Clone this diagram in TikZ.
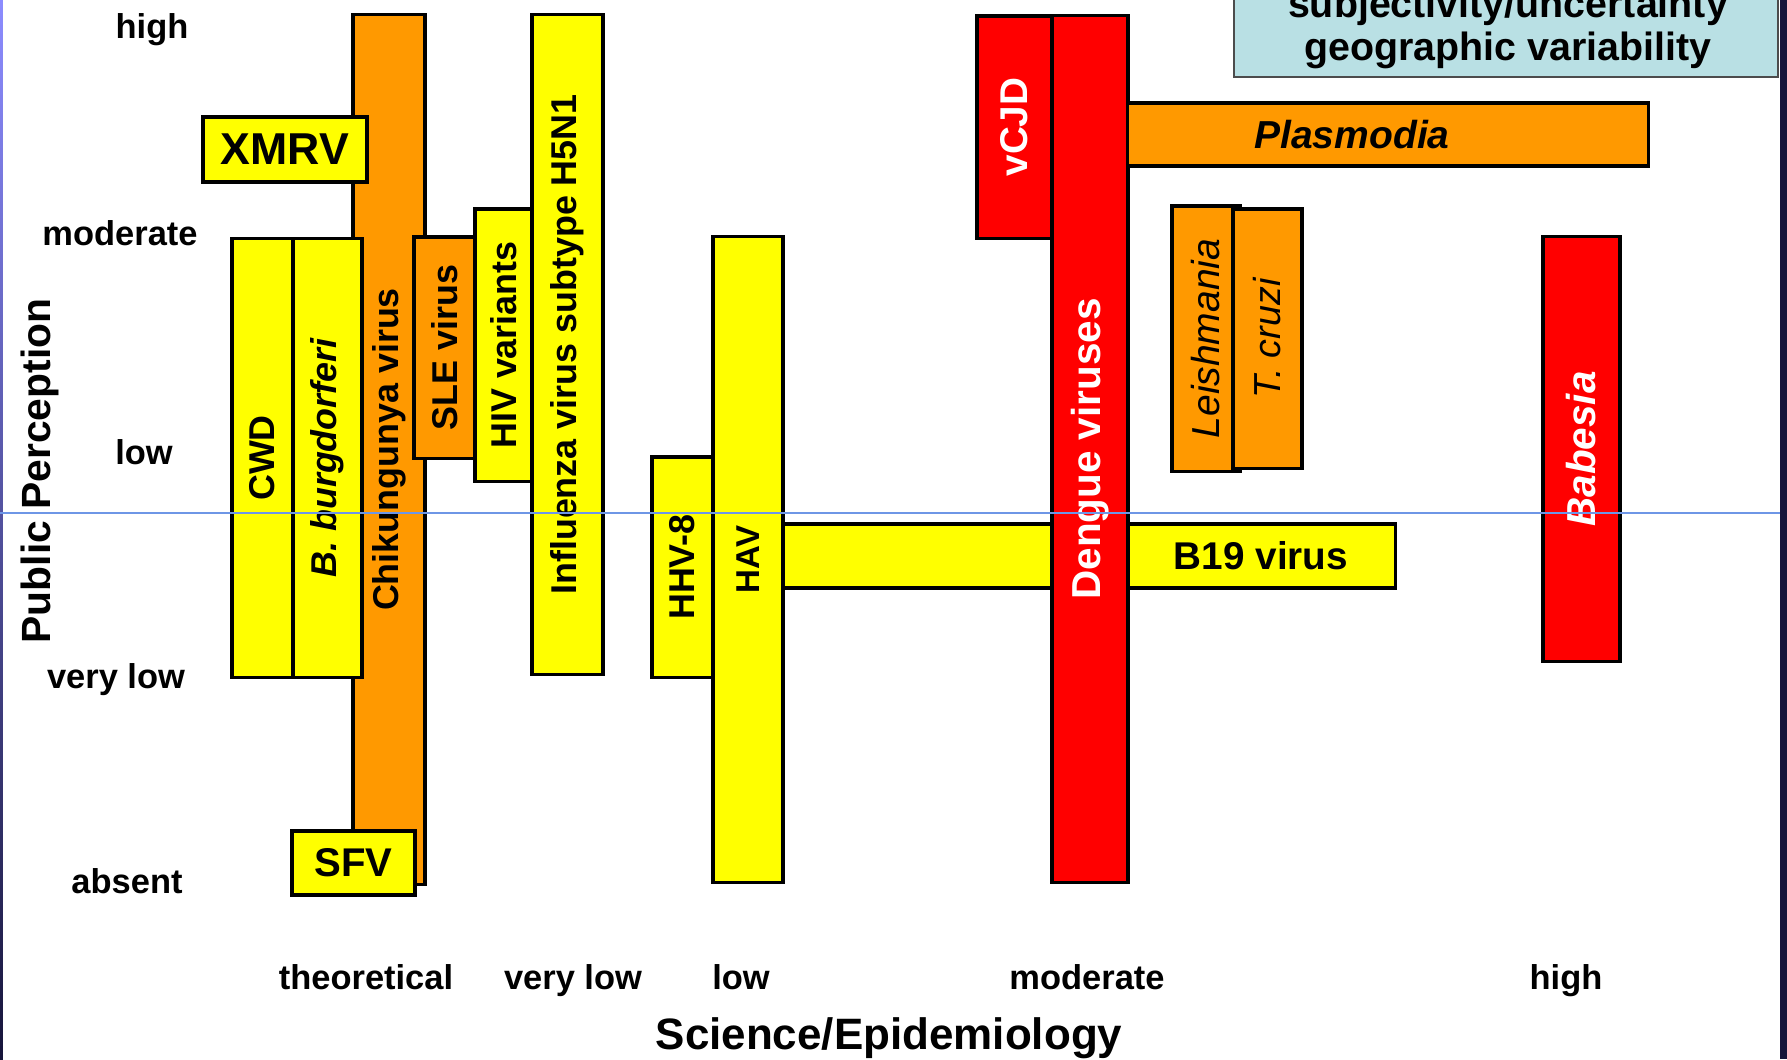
\documentclass[tikz,border=0pt]{standalone}
\usepackage{fontspec}
\setmainfont{Liberation Sans}
\definecolor{RiskYellow}{RGB}{255,255,0}
\definecolor{RiskOrange}{RGB}{255,153,0}
\definecolor{RiskRed}{RGB}{255,0,0}
\definecolor{NoteColor}{RGB}{185,224,228}
\definecolor{GuideColor}{RGB}{110,150,230}
\definecolor{FrameColor}{RGB}{22,20,58}
\usepackage{tikz}
\usetikzlibrary{positioning}
\tikzstyle{riskbox} = [draw=black, line width=0.9pt, inner sep=0pt, font=\bfseries\fontsize{10.2}{12}\selectfont]
\tikzstyle{riskvbox} = [riskbox, rotate=90]
\tikzstyle{levellabel} = [font=\bfseries\fontsize{9.8}{11}\selectfont, text height=1.45ex, text depth=0pt]
\tikzstyle{axistitle} = [font=\bfseries\fontsize{12}{14}\selectfont, text height=1.45ex, text depth=0pt]

\begin{document}
\begin{tikzpicture}[x=0.01cm, y=-0.01cm]
                
                \clip (0,0) rectangle (1787,1059);
                \fill[white] (0,0) rectangle (1787,1059);
                \shade[top color=blue!45, bottom color=FrameColor] (0,0) rectangle (3,1059);
                \fill[FrameColor] (1780,0) rectangle (1787,1059);
                
                % theoretical / very low
                \node[riskvbox, fill=RiskOrange, minimum width=8.69cm, minimum height=0.72cm] (chik) at (389,449.5) {Chikungunya virus};
                \node[riskbox, fill=RiskYellow, minimum width=1.64cm, minimum height=0.65cm, font=\bfseries\fontsize{12.7}{14}\selectfont] (xmrv) at (285,149.5) {XMRV};
                \node[riskvbox, fill=RiskYellow, minimum width=4.38cm, minimum height=0.61cm] (cwd) at (262.5,458) {CWD};
                \node[riskvbox, fill=RiskYellow, minimum width=4.38cm, minimum height=0.69cm, font=\bfseries\itshape\fontsize{10.2}{12}\selectfont] (bburg) at (327.5,458) {B. burgdorferi};
                \node[riskbox, fill=RiskYellow, minimum width=1.23cm, minimum height=0.64cm, font=\bfseries\fontsize{11.4}{13}\selectfont] (sfv) at (353.5,863) {SFV};
                \node[riskvbox, fill=RiskOrange, minimum width=2.21cm, minimum height=0.61cm] (sle) at (444.5,347.5) {SLE virus};
                \node[riskvbox, fill=RiskYellow, minimum width=2.72cm, minimum height=0.57cm] (hiv) at (503.5,345) {HIV variants};
                \node[riskvbox, fill=RiskYellow, minimum width=6.59cm, minimum height=0.71cm] (flu) at (567.5,344.5) {Influenza virus subtype H5N1};
                
                % low
                \node[riskvbox, fill=RiskYellow, minimum width=2.20cm, minimum height=0.61cm] (hhv) at (682.5,567) {HHV-8};
                \node[riskbox, fill=RiskYellow, minimum width=6.12cm, minimum height=0.64cm] (b19bar) at (1089,556) {};
                \node[riskvbox, fill=RiskYellow, minimum width=6.45cm, minimum height=0.70cm, font=\bfseries\fontsize{9.4}{11}\selectfont] (hav) at (748,559.5) {HAV};
                
                % moderate / high
                \node[riskvbox, fill=RiskRed, text=white, minimum width=2.22cm, minimum height=0.75cm, font=\bfseries\fontsize{11}{13}\selectfont] (vcjd) at (1014.5,127) {vCJD};
                \node[riskvbox, fill=RiskRed, text=white, minimum width=8.66cm, minimum height=0.76cm, font=\bfseries\fontsize{11.5}{13}\selectfont] (dengue) at (1090,449) {Dengue viruses};
                \node[font=\bfseries\fontsize{11}{13}\selectfont] (b19) at (1261,556) {B19 virus};
                \node[riskbox, fill=RiskOrange, minimum width=5.20cm, minimum height=0.63cm] (plasmbar) at (1388,134.5) {};
                \node[font=\bfseries\itshape\fontsize{11.1}{13}\selectfont] (plasm) at (1352,134.5) {Plasmodia};
                \node[riskvbox, fill=RiskOrange, minimum width=2.65cm, minimum height=0.68cm, font=\itshape\fontsize{11.1}{13}\selectfont] (leish) at (1206,338.5) {Leishmania};
                \node[riskvbox, fill=RiskOrange, minimum width=2.59cm, minimum height=0.69cm, font=\itshape\fontsize{10.7}{13}\selectfont] (tcruzi) at (1267.5,338.5) {T. cruzi};
                \node[riskvbox, fill=RiskRed, text=white, minimum width=4.24cm, minimum height=0.77cm, font=\bfseries\itshape\fontsize{11.5}{13}\selectfont] (babesia) at (1581.5,449) {Babesia};
                
                % legend box
                \node[draw=black!70, line width=0.6pt, fill=NoteColor, inner sep=0pt, minimum width=5.44cm, minimum height=0.97cm] (note) at (1506,28.5) {};
                \node[anchor=base, font=\bfseries\fontsize{11.2}{13}\selectfont] (note1) at (1508,17) {subjectivity/uncertainty};
                \node[anchor=base, font=\bfseries\fontsize{11.2}{13}\selectfont] (note2) at (1508,60) {geographic variability};
                
                % public perception levels
                \node[levellabel] (yhigh) at (152,25) {high};
                \node[levellabel] (ymod) at (120,232) {moderate};
                \node[levellabel] (ylow) at (144,451) {low};
                \node[levellabel] (yvlow) at (116,675) {very low};
                \node[levellabel] (yabs) at (127,880) {absent};
                \node[axistitle, rotate=90, font=\bfseries\fontsize{11.6}{13}\selectfont] (ytitle) at (37,471) {Public Perception};
                
                % science levels
                \node[levellabel] (xtheo) at (366,976) {theoretical};
                \node[levellabel] (xvlow) at (573,976) {very low};
                \node[levellabel] (xlow) at (741,976) {low};
                \node[levellabel] (xmod) at (1087,976) {moderate};
                \node[levellabel] (xhigh) at (1566,976) {high};
                \node[axistitle, font=\bfseries\fontsize{12.5}{14}\selectfont] (xtitle) at (889,1036) {Science/Epidemiology};
                
                \coordinate (guideL) at (0,513);
                \coordinate (guideR) at (1780,513);
                \draw[GuideColor, line width=0.5pt] (guideL) -- (guideR);
            \end{tikzpicture}
\end{document}
